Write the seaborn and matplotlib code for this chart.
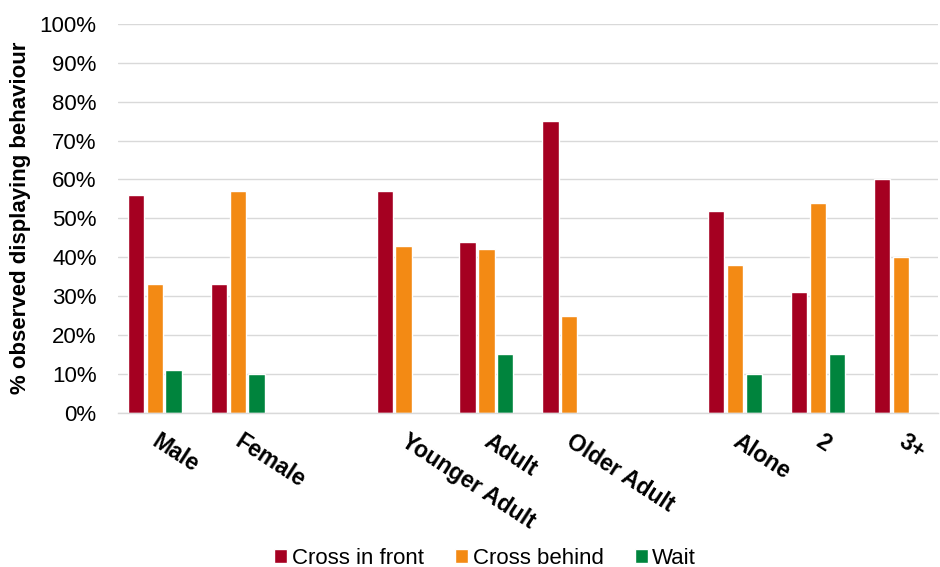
import matplotlib
matplotlib.use("Agg")
import matplotlib.pyplot as plt
import matplotlib.transforms as mtransforms
import seaborn as sns
import pandas as pd
from matplotlib.ticker import PercentFormatter

# data (percent)
categories = ["Male", "Female", " ", "Younger Adult", "Adult", "Older Adult",
              "  ", "Alone", "2", "3+"]
groups = ["Male", "Female", "Younger Adult", "Adult", "Older Adult", "Alone", "2", "3+"]
cross_front = [56, 33, 57, 44, 75, 52, 31, 60]
cross_behind = [33, 57, 43, 42, 25, 38, 54, 40]
wait = [11, 10, 0, 15, 0, 10, 15, 0]
series = ["Cross in front", "Cross behind", "Wait"]
colors = ["#A50021", "#F38A14", "#00843D"]

rows = []
for name, vals in zip(series, [cross_front, cross_behind, wait]):
    for g, v in zip(groups, vals):
        rows.append({"group": g, "behaviour": name, "pct": v})
df = pd.DataFrame(rows)

sns.set_theme(style="white")
plt.rcParams["font.family"] = ["Liberation Sans", "DejaVu Sans"]
plt.rcParams["text.color"] = "black"

fig, ax = plt.subplots(figsize=(9.4, 5.67), dpi=100)
fig.subplots_adjust(left=0.125, right=0.998, top=0.958, bottom=0.272)

sns.barplot(data=df, x="group", y="pct", hue="behaviour", order=categories,
            hue_order=series, palette=colors, width=0.68, gap=0.13,
            saturation=1, ax=ax, legend=True)

ax.set_ylim(0, 100)
ax.set_yticks(range(0, 101, 10))
ax.yaxis.set_major_formatter(PercentFormatter(decimals=0))
ax.yaxis.grid(True, color="#D9D9D9", linewidth=1)
ax.set_axisbelow(True)
for s in ["top", "right", "left"]:
    ax.spines[s].set_visible(False)
ax.spines["bottom"].set_color("#D9D9D9")
ax.spines["bottom"].set_linewidth(1)
ax.set_xlim(-0.45, len(categories) - 0.55)

ax.tick_params(axis="y", labelsize=16, labelcolor="black", length=0, pad=15)
ax.tick_params(axis="x", labelcolor="black", length=0, pad=12)
ax.set_xticks(range(len(categories)))
ax.set_xticklabels(categories, rotation=-33, ha="left", va="top",
                   rotation_mode="anchor", fontsize=16.5, fontweight="bold",
                   color="black")
shift = mtransforms.ScaledTranslation(6 / 100, 0, fig.dpi_scale_trans)
for lab in ax.get_xticklabels():
    lab.set_transform(lab.get_transform() + shift)
ax.set_xlabel("")
ax.set_ylabel("% observed displaying behaviour", fontsize=16, fontweight="bold",
              labelpad=6, color="black")

handles, labels = ax.get_legend_handles_labels()
ax.get_legend().remove()
leg = fig.legend(handles, labels, loc="lower center", bbox_to_anchor=(0.516, -0.038),
                 ncol=3, frameon=False, fontsize=16, handlelength=0.6,
                 handleheight=0.6, handletextpad=0.2, columnspacing=1.4)
for t in leg.get_texts():
    t.set_color("black")

fig.savefig("out.png", dpi=100)
